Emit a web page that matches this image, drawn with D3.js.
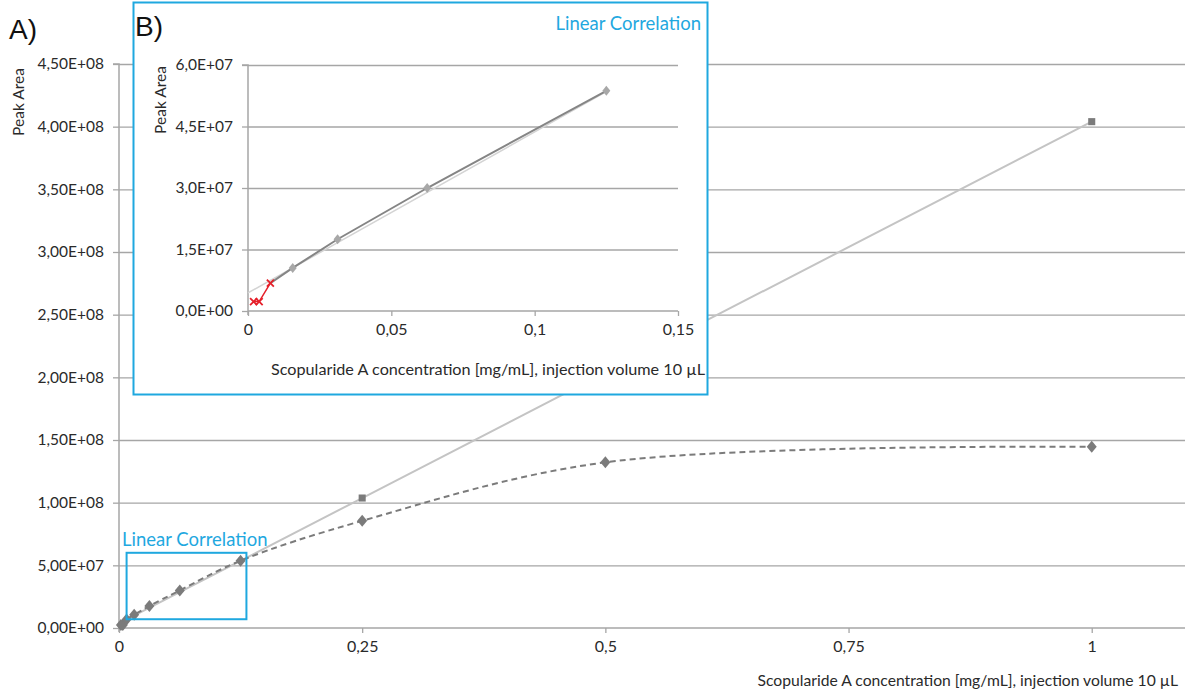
<!DOCTYPE html>
<html>
<head>
<meta charset="utf-8">
<script src="https://cdn.jsdelivr.net/npm/d3@7"></script>
<style>
  html, body { margin: 0; padding: 0; background: #fff; }
  svg { display: block; font-family: Lato, "Open Sans", sans-serif; }
</style>
</head>
<body>
<svg id="chart" width="1185" height="691"></svg>
<script>
// ---- Data ----
const mainXTicks = [0, 0.25, 0.5, 0.75, 1];
const mainXTickLabels = ["0", "0,25", "0,5", "0,75", "1"];
const mainYTicks = [0, 5e7, 1e8, 1.5e8, 2e8, 2.5e8, 3e8, 3.5e8, 4e8, 4.5e8];
const mainYTickLabels = ["0,00E+00", "5,00E+07", "1,00E+08", "1,50E+08", "2,00E+08", "2,50E+08", "3,00E+08", "3,50E+08", "4,00E+08", "4,50E+08"];

// measured peak areas (diamonds, dashed smoothed line)
const measConc = [0.00195, 0.0039, 0.0078, 0.0156, 0.03125, 0.0625, 0.125, 0.25, 0.5, 1];
const measArea = [2.3e6, 2.3e6, 6.8e6, 1.05e7, 1.75e7, 3.0e7, 5.37e7, 8.55e7, 1.322e8, 1.446e8];

// linear extrapolation (squares, solid light line)
const linConc = [0, 0.25, 1];
const linArea = [3.7e6, 1.037e8, 4.04e8];
const squareConc = [0.25, 1];
const squareArea = [1.037e8, 4.04e8];

// highlighted region in main chart
const regionConc = [0.0078, 0.131];
const regionArea = [7e6, 6e7];

// inset B
const insetXTicks = [0, 0.05, 0.1, 0.15];
const insetXTickLabels = ["0", "0,05", "0,1", "0,15"];
const insetYTicks = [0, 1.5e7, 3e7, 4.5e7, 6e7];
const insetYTickLabels = ["0,0E+00", "1,5E+07", "3,0E+07", "4,5E+07", "6,0E+07"];
const insetConc = [0.0078, 0.0156, 0.03125, 0.0625, 0.125];
const insetArea = [6.8e6, 1.05e7, 1.75e7, 3.0e7, 5.37e7];
const redConc = [0.00195, 0.0039, 0.0078];
const redArea = [2.3e6, 2.3e6, 6.8e6];
const trendConc = [0, 0.125];
const trendArea = [4.4e6, 5.35e7];

const xTitle = "Scopularide A concentration [mg/mL], injection volume 10 µL";
const yTitle = "Peak Area";

// ---- Styles ----
const GRID = "#a6a6a6";
const BLUE = "#1fa8df";
const DARK = "#7b7b7b";
const LIGHT = "#c4c4c4";
const TXT = "#2a2a2a";

const svg = d3.select("#chart");

// ---- Main chart ----
const x = d3.scaleLinear().domain([0, 1.1]).range([119, 1189]);
const y = d3.scaleLinear().domain([0, 4.5e8]).range([628, 64]);

const main = svg.append("g");

// grid lines
main.append("g").selectAll("line").data(mainYTicks.slice(1)).join("line")
  .attr("x1", x(0)).attr("x2", 1185)
  .attr("y1", d => y(d) + 0.5).attr("y2", d => y(d) + 0.5)
  .attr("stroke", GRID).attr("stroke-width", 1.3);

// y axis
const yAxis = d3.axisLeft(y).tickValues(mainYTicks)
  .tickFormat((d, i) => mainYTickLabels[i]).tickSize(6).tickPadding(9);
const gy = main.append("g").attr("transform", `translate(${x(0)},0)`).call(yAxis);
gy.select(".domain").attr("stroke", GRID).attr("stroke-width", 1.5).attr("d", `M-6,${y(4.5e8)}H0V${y(0)+4}`);
gy.selectAll(".tick line").attr("stroke", GRID).attr("stroke-width", 1.3);
gy.selectAll(".tick text").attr("font-size", 15.5).attr("fill", TXT).attr("font-family", "Lato, sans-serif");

// x axis
const xAxis = d3.axisBottom(x).tickValues(mainXTicks)
  .tickFormat((d, i) => mainXTickLabels[i]).tickSize(5).tickPadding(8);
const gx = main.append("g").attr("transform", `translate(0,${y(0)})`).call(xAxis);
gx.select(".domain").attr("stroke", GRID).attr("stroke-width", 1.5).attr("d", `M${x(0)},0H1185`);
gx.selectAll(".tick line").attr("stroke", GRID).attr("stroke-width", 1.3);
gx.selectAll(".tick text").attr("font-size", 16).attr("fill", TXT).attr("font-family", "Lato, sans-serif");

// linear line
const linPts = linConc.map((c, i) => [x(c), y(linArea[i])]);
main.append("path").attr("d", d3.line()(linPts))
  .attr("fill", "none").attr("stroke", LIGHT).attr("stroke-width", 2);

// measured dashed smooth line
const measPts = measConc.map((c, i) => [x(c), y(measArea[i])]);
main.append("path").attr("d", d3.line().curve(d3.curveCatmullRom.alpha(0.5))(measPts))
  .attr("fill", "none").attr("stroke", DARK).attr("stroke-width", 2)
  .attr("stroke-dasharray", "6,4");

// squares
main.append("g").selectAll("path").data(squareConc).join("path")
  .attr("d", d3.symbol(d3.symbolSquare, 50))
  .attr("transform", (d, i) => `translate(${x(d)},${y(squareArea[i])})`)
  .attr("fill", DARK);

// diamonds
const diamond = "M0,-6L5,0L0,6L-5,0Z";
main.append("g").selectAll("path").data(measConc).join("path")
  .attr("d", diamond)
  .attr("transform", (d, i) => `translate(${x(d)},${y(measArea[i])})`)
  .attr("fill", DARK);

// highlight rectangle
main.append("rect")
  .attr("x", x(regionConc[0])).attr("y", y(regionArea[1]))
  .attr("width", x(regionConc[1]) - x(regionConc[0]))
  .attr("height", y(regionArea[0]) - y(regionArea[1]))
  .attr("fill", "none").attr("stroke", BLUE).attr("stroke-width", 2);
main.append("text").attr("x", 122).attr("y", 546)
  .attr("font-size", 18.5).attr("fill", BLUE).text("Linear Correlation");

// titles
main.append("text").attr("x", 1178).attr("y", 686).attr("text-anchor", "end")
  .attr("font-size", 15.7).attr("fill", TXT).text(xTitle);
main.append("text").attr("transform", "translate(24,102) rotate(-90)")
  .attr("text-anchor", "middle").attr("font-size", 15.5).attr("fill", TXT).text(yTitle);
main.append("text").attr("x", 9).attr("y", 39).attr("font-size", 28)
  .attr("font-family", "'Liberation Sans', Arial, sans-serif").attr("fill", "#111").text("A)");

// ---- Inset B ----
const inset = svg.append("g");
inset.append("rect").attr("x", 133.5).attr("y", 2.5).attr("width", 574).attr("height", 392)
  .attr("fill", "#fff").attr("stroke", BLUE).attr("stroke-width", 2);

const xi = d3.scaleLinear().domain([0, 0.15]).range([248, 678]);
const yi = d3.scaleLinear().domain([0, 6e7]).range([311, 65]);

inset.append("g").selectAll("line").data(insetYTicks.slice(1)).join("line")
  .attr("x1", xi(0)).attr("x2", xi(0.15))
  .attr("y1", d => yi(d) + 0.5).attr("y2", d => yi(d) + 0.5)
  .attr("stroke", GRID).attr("stroke-width", 1.3);

const yiAxis = d3.axisLeft(yi).tickValues(insetYTicks)
  .tickFormat((d, i) => insetYTickLabels[i]).tickSize(6).tickPadding(9);
const giy = inset.append("g").attr("transform", `translate(${xi(0)},0)`).call(yiAxis);
giy.select(".domain").attr("stroke", GRID).attr("stroke-width", 1.5).attr("d", `M-6,${yi(6e7)}H0V${yi(0)+4}`);
giy.selectAll(".tick line").attr("stroke", GRID).attr("stroke-width", 1.3);
giy.selectAll(".tick text").attr("font-size", 15.5).attr("fill", TXT).attr("font-family", "Lato, sans-serif");

const xiAxis = d3.axisBottom(xi).tickValues(insetXTicks)
  .tickFormat((d, i) => insetXTickLabels[i]).tickSize(5).tickPadding(8);
const gix = inset.append("g").attr("transform", `translate(0,${yi(0)})`).call(xiAxis);
gix.select(".domain").attr("stroke", GRID).attr("stroke-width", 1.5).attr("d", `M${xi(0)},0H${xi(0.15)}`);
gix.selectAll(".tick line").attr("stroke", GRID).attr("stroke-width", 1.3);
gix.selectAll(".tick text").attr("font-size", 16).attr("fill", TXT).attr("font-family", "Lato, sans-serif");

// trend line (light)
inset.append("path")
  .attr("d", d3.line()(trendConc.map((c, i) => [xi(c), yi(trendArea[i])])))
  .attr("fill", "none").attr("stroke", "#d4d4d4").attr("stroke-width", 1.5);

// dark data line
inset.append("path")
  .attr("d", d3.line()(insetConc.map((c, i) => [xi(c), yi(insetArea[i])])))
  .attr("fill", "none").attr("stroke", "#858585").attr("stroke-width", 2);

// red line
inset.append("path")
  .attr("d", d3.line()(redConc.map((c, i) => [xi(c), yi(redArea[i])])))
  .attr("fill", "none").attr("stroke", "#e5202a").attr("stroke-width", 1.5);

// diamonds (light)
inset.append("g").selectAll("path").data(insetConc.slice(1)).join("path")
  .attr("d", "M0,-5L4,0L0,5L-4,0Z")
  .attr("transform", (d, i) => `translate(${xi(d)},${yi(insetArea[i + 1])})`)
  .attr("fill", "#a8a8a8");

// red crosses
inset.append("g").selectAll("path").data(redConc).join("path")
  .attr("d", "M-3.5,-3.5L3.5,3.5M-3.5,3.5L3.5,-3.5")
  .attr("transform", (d, i) => `translate(${xi(d)},${yi(redArea[i])})`)
  .attr("stroke", "#e5202a").attr("stroke-width", 1.8).attr("fill", "none");

inset.append("text").attr("x", 705).attr("y", 375).attr("text-anchor", "end")
  .attr("font-size", 16.2).attr("fill", TXT).text(xTitle);
inset.append("text").attr("transform", "translate(166,100) rotate(-90)")
  .attr("text-anchor", "middle").attr("font-size", 15.5).attr("fill", TXT).text(yTitle);
inset.append("text").attr("x", 701).attr("y", 30).attr("text-anchor", "end")
  .attr("font-size", 18.5).attr("fill", BLUE).text("Linear Correlation");
inset.append("text").attr("x", 135).attr("y", 36).attr("font-size", 28)
  .attr("font-family", "'Liberation Sans', Arial, sans-serif").attr("fill", "#111").text("B)");
</script>
</body>
</html>
